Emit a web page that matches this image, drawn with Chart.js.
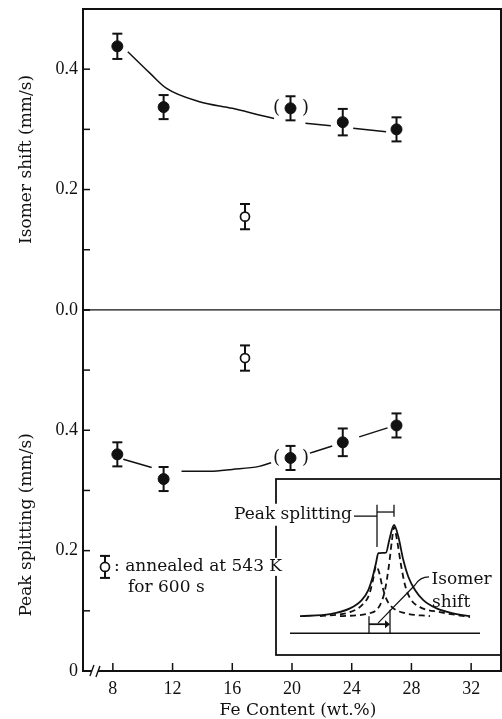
<!DOCTYPE html>
<html>
<head>
<meta charset="utf-8">
<script src="https://cdn.jsdelivr.net/npm/chart.js@4.4.1/dist/chart.umd.min.js"></script>
<style>
  html, body { margin: 0; padding: 0; background: #fff; }
  #wrap { position: relative; width: 502px; height: 719px; }
  #inset { position: absolute; left: 220px; top: 470px; z-index: 0; }
  #main { position: absolute; left: 0; top: 0; z-index: 1; }
</style>
</head>
<body>
<div id="wrap">
  <canvas id="inset" width="282" height="190"></canvas>
  <canvas id="main" width="502" height="719"></canvas>
</div>
<script>
// measured samples (Fe wt.%)
const feContent = [8.3, 11.4, 19.9, 23.4, 27.0];
const isomerShift = [0.438, 0.337, 0.335, 0.312, 0.300];
const isomerErr = [0.021, 0.020, 0.020, 0.022, 0.020];
const peakSplit = [0.360, 0.319, 0.354, 0.380, 0.408];
const peakErr = [0.020, 0.020, 0.020, 0.023, 0.020];
const bracketedIndex = 2; // the (●) point

// annealed at 543 K for 600 s
const annealedFe = [16.85];
const annealedIS = [0.155];
const annealedISErr = [0.021];
const annealedPS = [0.520];
const annealedPSErr = [0.021];

// hand drawn guide curves, null = gap around a marker
const isCurveX = [9.0, 10.5, 11.6, 13.8, 16.0, 17.8, 18.8, 19.9, 20.9, 22.6, 23.3, 24.1, 26.3];
const isCurveY = [0.429, 0.393, 0.368, 0.346, 0.335, 0.324, 0.318, null, 0.310, 0.306, null, 0.302, 0.296];
const psCurveX = [8.7, 10.6, 11.4, 12.6, 14.5, 16.0, 17.8, 18.6, 19.9, 21.2, 22.7, 23.4, 24.5, 26.4];
const psCurveY = [0.352, 0.338, null, 0.332, 0.332, 0.335, 0.340, 0.346, null, 0.362, 0.374, null, 0.389, 0.404];

const xTickValues = [8, 12, 16, 20, 24, 28, 32];
const yTopTicks = [0, 0.1, 0.2, 0.3, 0.4, 0.5];
const yBotTicks = [0, 0.1, 0.2, 0.3, 0.4, 0.5, 0.6];

// inset: schematic spectrum (velocity, absorption)
const sumV = [-4.25, -2.75, -1.75, -1.165, -0.835, -0.615, -0.45, -0.335, 0.05, 0.215, 0.45, 0.665, 0.915, 1.165, 1.5, 1.915, 2.585, 3.415, 4.25];
const sumA = [0, 0.022, 0.085, 0.176, 0.286, 0.432, 0.582, 0.689, 0.696, 0.835, 1.0, 0.871, 0.615, 0.432, 0.286, 0.176, 0.085, 0.03, 0];
const compLV = [-3.25, -1.75, -1.15, -0.8, -0.6, -0.45, -0.3, -0.15, 0.05, 0.35, 1.0, 2.25];
const compLA = [0, 0.044, 0.121, 0.231, 0.396, 0.549, 0.484, 0.341, 0.198, 0.099, 0.033, 0];
const compRV = [-2.25, -0.75, -0.25, 0, 0.2, 0.35, 0.45, 0.6, 0.8, 1.0, 1.25, 1.75, 2.75, 4.25];
const compRA = [0, 0.033, 0.121, 0.286, 0.56, 0.835, 0.978, 0.835, 0.56, 0.341, 0.198, 0.099, 0.044, -0.01];
const baseV = [-4.75, 4.75];
const baseA = [-0.187, -0.187];

const INK = '#111';
const FONT = "'DejaVu Serif', serif";
const TICK_FONT = { family: "'Liberation Serif', serif", size: 18 };
Chart.defaults.font.family = FONT;
Chart.defaults.color = INK;

function pts(xs, ys) {
    return xs.map((x, i) => ({ x: x, y: ys[i] }));
}

const markerSet = (xs, ys, errs, axis, open) => ({
    data: pts(xs, ys),
    yAxisID: axis,
    errors: errs,
    pointRadius: open ? 4.5 : 5.5,
    pointBorderWidth: open ? 1.7 : 1,
    pointBackgroundColor: open ? '#fff' : INK,
    pointBorderColor: INK
});

const curveSet = (xs, ys, axis) => ({
    data: pts(xs, ys),
    yAxisID: axis,
    showLine: true,
    spanGaps: false,
    pointRadius: 0,
    borderColor: INK,
    borderWidth: 1.5,
    cubicInterpolationMode: 'monotone'
});

function line(ctx, x1, y1, x2, y2) {
    ctx.beginPath();
    ctx.moveTo(x1, y1);
    ctx.lineTo(x2, y2);
    ctx.stroke();
}

function noPad(s) {
    s.paddingLeft = 0;
    s.paddingRight = 0;
    s.paddingTop = 0;
    s.paddingBottom = 0;
}

const decor = {
    id: 'decor',
    beforeDatasetsDraw(chart) {
        const ctx = chart.ctx;
        ctx.save();
        ctx.strokeStyle = INK;
        ctx.lineWidth = 2;
        chart.data.datasets.forEach(ds => {
            if (!ds.errors) return;
            const ys = chart.scales[ds.yAxisID];
            const xs = chart.scales.x;
            ds.data.forEach((p, j) => {
                const px = xs.getPixelForValue(p.x);
                const top = ys.getPixelForValue(p.y + ds.errors[j]);
                const bot = ys.getPixelForValue(p.y - ds.errors[j]);
                line(ctx, px, top, px, bot);
                line(ctx, px - 5, top, px + 5, top);
                line(ctx, px - 5, bot, px + 5, bot);
            });
        });
        ctx.restore();
    },
    afterDatasetsDraw(chart) {
        const ctx = chart.ctx;
        const a = chart.chartArea;
        const x = chart.scales.x, yT = chart.scales.yTop, yB = chart.scales.yBot;
        ctx.save();
        ctx.strokeStyle = INK;
        ctx.fillStyle = INK;

        // frame
        ctx.lineWidth = 2;
        ctx.strokeRect(a.left, a.top, a.right - a.left, a.bottom - a.top);
        ctx.lineWidth = 1.3;
        const sep = yT.getPixelForValue(0);
        line(ctx, a.left, sep, a.right, sep);

        // inward ticks
        ctx.lineWidth = 1.5;
        yTopTicks.forEach(v => line(ctx, a.left, yT.getPixelForValue(v), a.left + 7, yT.getPixelForValue(v)));
        yBotTicks.forEach(v => line(ctx, a.left, yB.getPixelForValue(v), a.left + 7, yB.getPixelForValue(v)));
        xTickValues.forEach(v => line(ctx, x.getPixelForValue(v), a.bottom, x.getPixelForValue(v), a.bottom - 8));

        // axis break near the origin
        const bx = x.getPixelForValue(6.8);
        ctx.fillStyle = '#fff';
        ctx.fillRect(bx - 3, a.bottom - 3, 6, 6);
        ctx.lineWidth = 1.4;
        line(ctx, bx - 5, a.bottom + 5, bx - 1, a.bottom - 6);
        line(ctx, bx + 1, a.bottom + 6, bx + 5, a.bottom - 5);
        ctx.fillStyle = INK;

        // parentheses round the uncertain point
        ctx.font = '18px ' + FONT;
        ctx.textBaseline = 'middle';
        ctx.textAlign = 'center';
        const px = x.getPixelForValue(feContent[bracketedIndex]);
        [[yT, isomerShift], [yB, peakSplit]].forEach(([s, vals]) => {
            const py = s.getPixelForValue(vals[bracketedIndex]);
            ctx.fillText('(', px - 14, py);
            ctx.fillText(')', px + 15, py);
        });

        // axis titles
        ctx.font = '17px ' + FONT;
        ctx.save();
        ctx.translate(27, (yT.top + yT.bottom) / 2);
        ctx.rotate(-Math.PI / 2);
        ctx.fillText('Isomer shift (mm/s)', 0, 0);
        ctx.restore();
        ctx.save();
        ctx.translate(27, yB.top + 215);
        ctx.rotate(-Math.PI / 2);
        ctx.fillText('Peak splitting (mm/s)', 0, 0);
        ctx.restore();
        ctx.fillText('Fe Content (wt.%)', 298, 711);

        // legend for the open symbol
        const lx = a.left + 22, ly = yB.top + 257;
        ctx.lineWidth = 2;
        line(ctx, lx, ly - 11, lx, ly + 11);
        line(ctx, lx - 5, ly - 11, lx + 5, ly - 11);
        line(ctx, lx - 5, ly + 11, lx + 5, ly + 11);
        ctx.beginPath();
        ctx.arc(lx, ly, 4.5, 0, Math.PI * 2);
        ctx.fillStyle = '#fff';
        ctx.fill();
        ctx.lineWidth = 1.7;
        ctx.stroke();
        ctx.textAlign = 'left';
        const t1 = ': annealed at 543 K';
        const w1 = ctx.measureText(t1).width;
        ctx.fillRect(lx + 9, ly - 9, w1 + 2, 18);
        ctx.fillStyle = INK;
        ctx.fillText(t1, lx + 9, ly);
        ctx.fillText('for 600 s', lx + 23, ly + 21);
        ctx.restore();
    }
};

new Chart(document.getElementById('main'), {
    type: 'scatter',
    data: {
        datasets: [
            curveSet(isCurveX, isCurveY, 'yTop'),
            markerSet(feContent, isomerShift, isomerErr, 'yTop', false),
            markerSet(annealedFe, annealedIS, annealedISErr, 'yTop', true),
            curveSet(psCurveX, psCurveY, 'yBot'),
            markerSet(feContent, peakSplit, peakErr, 'yBot', false),
            markerSet(annealedFe, annealedPS, annealedPSErr, 'yBot', true)
        ]
    },
    options: {
        responsive: false,
        animation: false,
        devicePixelRatio: 1,
        events: [],
        // autoPadding would push the frame in by the marker radius
        layout: { autoPadding: false, padding: { top: 9, right: 1, left: 0, bottom: 0 } },
        plugins: { legend: { display: false }, tooltip: { enabled: false } },
        scales: {
            x: {
                type: 'linear', position: 'bottom', min: 6, max: 34,
                afterBuildTicks: s => { s.ticks = xTickValues.map(v => ({ value: v })); },
                afterFit: s => { s.height = 48; noPad(s); },
                grid: { display: false, drawTicks: true, tickLength: 7 },
                border: { display: false },
                ticks: { font: TICK_FONT, color: INK, padding: 0, maxRotation: 0 }
            },
            // in a stack the later axis is placed above the earlier one
            yBot: {
                type: 'linear', position: 'left', stack: 'panels', stackWeight: 6,
                min: 0, max: 0.6,
                afterBuildTicks: s => { s.ticks = yBotTicks.map(v => ({ value: v })); },
                afterFit: s => { s.width = 83; noPad(s); },
                grid: { display: false, drawTicks: false },
                border: { display: false },
                ticks: {
                    font: TICK_FONT, color: INK, padding: 5,
                    callback: v => {
                        const k = Math.round(v * 10);
                        if (k === 0) return '0';
                        return (k === 2 || k === 4) ? v.toFixed(1) : '';
                    }
                }
            },
            yTop: {
                type: 'linear', position: 'left', stack: 'panels', stackWeight: 5,
                min: 0, max: 0.5,
                afterBuildTicks: s => { s.ticks = yTopTicks.map(v => ({ value: v })); },
                afterFit: s => { s.width = 83; noPad(s); },
                grid: { display: false, drawTicks: false },
                border: { display: false },
                ticks: {
                    font: TICK_FONT, color: INK, padding: 5,
                    callback: v => (Math.round(v * 10) % 2 === 0 && v < 0.45) ? v.toFixed(1) : ''
                }
            }
        }
    },
    plugins: [decor]
});

// inset sketch of a doublet
const insetDecor = {
    id: 'insetDecor',
    beforeDatasetsDraw(chart) {
        const ctx = chart.ctx;
        ctx.save();
        ctx.fillStyle = '#fff';
        ctx.fillRect(56, 9, 226, 176);
        ctx.strokeStyle = INK;
        ctx.lineWidth = 1.8;
        ctx.strokeRect(56, 9, 226, 176);
        ctx.restore();
    },
    afterDatasetsDraw(chart) {
        const ctx = chart.ctx;
        const x = chart.scales.x, y = chart.scales.y;
        const X = v => x.getPixelForValue(v), Y = v => y.getPixelForValue(v);
        ctx.save();
        ctx.strokeStyle = INK;
        ctx.fillStyle = INK;
        ctx.lineWidth = 1.3;

        // peak splitting bracket
        line(ctx, X(-0.4), Y(1.22), X(-0.4), Y(0.758));
        line(ctx, X(0.45), Y(1.22), X(0.45), Y(1.088));
        line(ctx, X(-0.4), Y(1.14), X(0.45), Y(1.14));
        line(ctx, X(-1.55), Y(1.095), X(-0.4), Y(1.095));

        // isomer shift arrow
        line(ctx, X(-0.8), Y(0), X(-0.8), Y(-0.187));
        line(ctx, X(0.25), Y(0.07), X(0.25), Y(-0.187));
        ctx.lineWidth = 1.8;
        line(ctx, X(-0.8), Y(-0.088), X(0.15), Y(-0.088));
        ctx.beginPath();
        ctx.moveTo(X(0.25), Y(-0.088));
        ctx.lineTo(X(0.0), Y(-0.088) - 4);
        ctx.lineTo(X(0.0), Y(-0.088) + 4);
        ctx.closePath();
        ctx.fill();
        ctx.lineWidth = 1.2;
        ctx.beginPath();
        ctx.moveTo(X(-0.35), Y(-0.077));
        ctx.lineTo(X(1.5), Y(0.341));
        ctx.quadraticCurveTo(X(1.75), Y(0.43), X(2.2), Y(0.43));
        ctx.stroke();

        // labels
        ctx.font = '17px ' + FONT;
        ctx.textBaseline = 'middle';
        ctx.textAlign = 'right';
        const lab = 'Peak splitting';
        const w = ctx.measureText(lab).width;
        ctx.fillStyle = '#fff';
        ctx.fillRect(X(-1.65) - w - 2, Y(1.11) - 11, w + 4, 22);
        ctx.fillStyle = INK;
        ctx.fillText(lab, X(-1.65), Y(1.11));
        ctx.textAlign = 'left';
        ctx.fillText('Isomer', X(2.33), Y(0.396));
        ctx.fillText('shift', X(2.35), Y(0.146));
        ctx.restore();
    }
};

const inkLine = (xs, ys, dashed, width) => ({
    data: pts(xs, ys),
    showLine: true,
    pointRadius: 0,
    borderColor: INK,
    borderWidth: width,
    borderDash: dashed ? [6, 4] : [],
    cubicInterpolationMode: 'monotone'
});

new Chart(document.getElementById('inset'), {
    type: 'scatter',
    data: {
        datasets: [
            inkLine(sumV, sumA, false, 1.8),
            inkLine(compLV, compLA, true, 1.8),
            inkLine(compRV, compRA, true, 1.8),
            inkLine(baseV, baseA, false, 1.3)
        ]
    },
    options: {
        responsive: false,
        animation: false,
        devicePixelRatio: 1,
        events: [],
        layout: { autoPadding: false, padding: 0 },
        plugins: { legend: { display: false }, tooltip: { enabled: false } },
        scales: {
            x: { type: 'linear', display: false, min: -8.25, max: 5.85 },
            y: { type: 'linear', display: false, min: -0.48, max: 1.6 }
        }
    },
    plugins: [insetDecor]
});
</script>
</body>
</html>
